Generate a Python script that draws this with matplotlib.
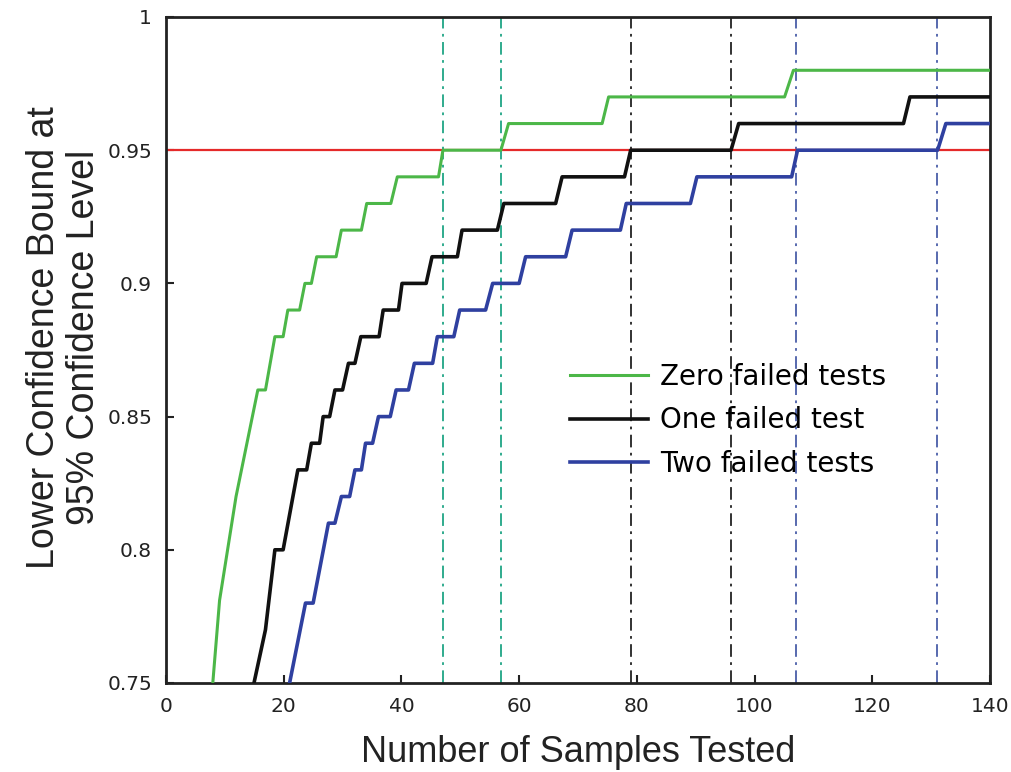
import matplotlib
matplotlib.use("Agg")
import matplotlib.pyplot as plt
from matplotlib import font_manager
from matplotlib.ticker import FuncFormatter

# vertices (samples tested, lower confidence bound)
zero_n = [7.95, 9.1, 11.9, 15.6, 16.9, 18.5, 19.9, 20.7, 22.7, 23.6, 24.7, 25.6, 28.9, 29.8,
          33.2, 34.1, 38.2, 39.3, 46.3, 47.05, 56.9, 58.2, 74.1, 75.2, 105.1, 106.6, 140]
zero_lcb = [0.75, 0.781, 0.82, 0.86, 0.86, 0.88, 0.88, 0.89, 0.89, 0.90, 0.90, 0.91, 0.91, 0.92,
            0.92, 0.93, 0.93, 0.94, 0.94, 0.95, 0.95, 0.96, 0.96, 0.97, 0.97, 0.98, 0.98]

one_n = [14.95, 16.9, 18.5, 19.9, 22.4, 23.9, 24.7, 26.1, 26.7, 27.8, 28.7, 30.0, 31.0, 32.1,
         33.1, 36.2, 36.9, 39.5, 40.1, 44.2, 45.2, 49.5, 50.3, 56.3, 57.4, 66.2, 67.3, 77.9,
         78.95, 96.0, 97.3, 125.3, 126.4, 140]
one_lcb = [0.75, 0.77, 0.80, 0.80, 0.83, 0.83, 0.84, 0.84, 0.85, 0.85, 0.86, 0.86, 0.87, 0.87,
           0.88, 0.88, 0.89, 0.89, 0.90, 0.90, 0.91, 0.91, 0.92, 0.92, 0.93, 0.93, 0.94, 0.94,
           0.95, 0.95, 0.96, 0.96, 0.97, 0.97]

two_n = [21.0, 23.7, 25.0, 27.6, 28.7, 29.8, 31.2, 32.1, 33.2, 33.9, 35.1, 36.1, 38.1, 39.1,
         41.2, 42.2, 45.3, 46.1, 48.9, 49.9, 54.3, 55.5, 60.0, 61.1, 67.9, 69.0, 77.2, 78.2,
         89.1, 90.2, 106.3, 107.3, 131.1, 132.5, 140]
two_lcb = [0.75, 0.78, 0.78, 0.81, 0.81, 0.82, 0.82, 0.83, 0.83, 0.84, 0.84, 0.85, 0.85, 0.86,
           0.86, 0.87, 0.87, 0.88, 0.88, 0.89, 0.89, 0.90, 0.90, 0.91, 0.91, 0.92, 0.92, 0.93,
           0.93, 0.94, 0.94, 0.95, 0.95, 0.96, 0.96]

target = 0.95
cross_zero = [47, 57]
cross_one = [79, 96]
cross_two = [107, 131]

labels = ["Zero failed tests", "One failed test", "Two failed tests"]
green, black, blue = "#4cb748", "#111111", "#2f40a0"
ink = "#222222"

# the axis titles in the original are a narrow face; Liberation Sans is the closest here
installed = {f.name for f in font_manager.fontManager.ttflist}
narrow = "Liberation Sans" if "Liberation Sans" in installed else "DejaVu Sans"

fig = plt.figure(figsize=(10.11, 7.72), dpi=100)
ax = fig.add_axes([166 / 1011, 1 - 683 / 772, 824 / 1011, 666 / 772])

ax.axhline(target, color="#e52a2a", lw=1.6, zorder=2)
dashdot = (0, (7, 3, 1.5, 3))
for xs, c in [(cross_zero, "#1fa585"), (cross_one, "#222222"), (cross_two, "#4a5ea8")]:
    for x in xs:
        ax.axvline(x, color=c, lw=1.3, ls=dashdot, zorder=1)

ax.plot(zero_n, zero_lcb, color=green, lw=2.2, label=labels[0], zorder=3)
ax.plot(one_n, one_lcb, color=black, lw=2.6, label=labels[1], zorder=3)
ax.plot(two_n, two_lcb, color=blue, lw=2.6, label=labels[2], zorder=3)

ax.set_xlim(0, 140)
ax.set_ylim(0.75, 1)
ax.set_xticks(range(0, 141, 20))
ax.set_yticks([0.75, 0.8, 0.85, 0.9, 0.95, 1.0])
ax.yaxis.set_major_formatter(FuncFormatter(lambda v, p: f"{v:g}"))
ax.tick_params(direction="in", length=6, width=1.5, labelsize=14.5, colors=ink, pad=10)

for s in ax.spines.values():
    s.set_linewidth(2)
    s.set_color(ink)

ax.set_xlabel("Number of Samples Tested", fontsize=26, color=ink, family=narrow)
ax.xaxis.label.set_va("baseline")
ax.xaxis.set_label_coords(0.5, -0.1186)
ax.set_ylabel("Lower Confidence Bound at\n95% Confidence Level", fontsize=27, color=ink,
              family=narrow, linespacing=1.12)
ax.yaxis.set_label_coords(-0.078, 0.519)

ax.legend(loc="upper left", bbox_to_anchor=(0.460, 0.518), frameon=False,
          fontsize=20, handlelength=2.8, labelspacing=0.55, handletextpad=0.45)

fig.savefig("out.png", dpi=100)
